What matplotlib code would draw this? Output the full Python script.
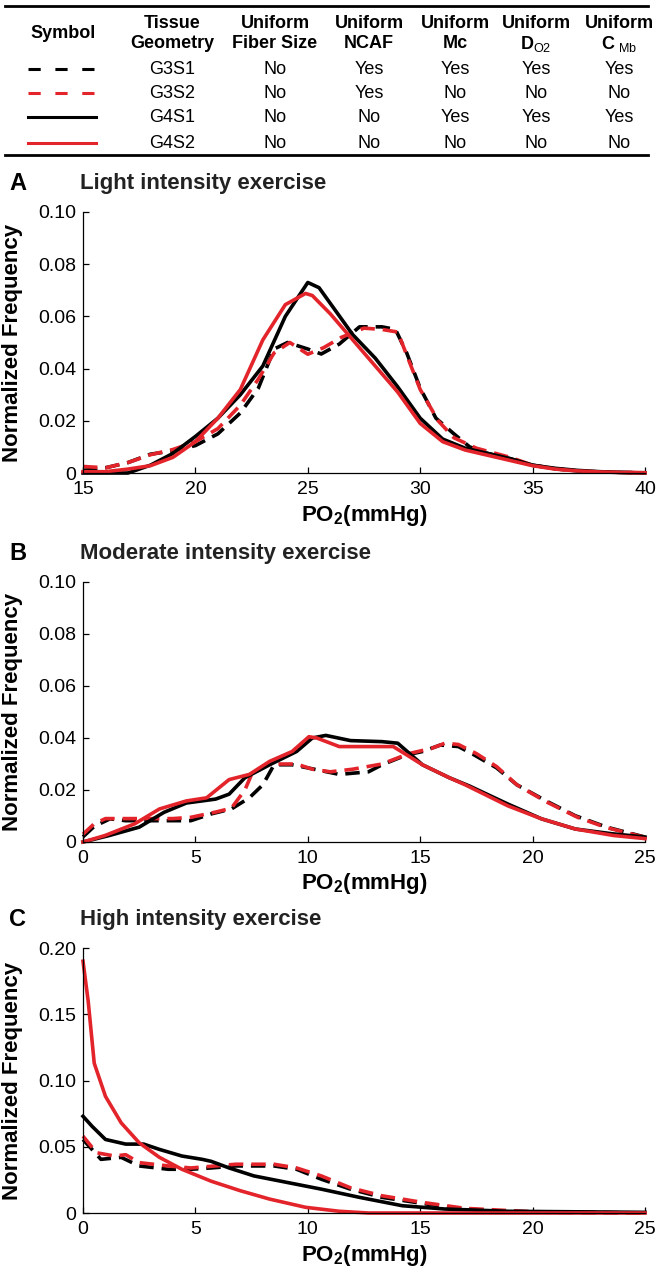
import numpy as np
import matplotlib
matplotlib.use("Agg")
import matplotlib.pyplot as plt
from matplotlib.lines import Line2D

plt.rcParams["font.family"] = ["Liberation Sans", "DejaVu Sans"]
plt.rcParams["mathtext.fontset"] = "custom"
plt.rcParams["mathtext.rm"] = "Liberation Sans"
plt.rcParams["mathtext.bf"] = "Liberation Sans:bold"

RED = "#e3242b"

# ---- table data ----
headers = ["Symbol", "Tissue\nGeometry", "Uniform\nFiber Size", "Uniform\nNCAF",
           "Uniform\nMc", "Uniform\n$\\mathbf{D}_{\\mathrm{O2}}$", "Uniform\n$\\mathbf{C}_{\\ \\mathrm{Mb}}$"]
geometry = ["G3S1", "G3S2", "G4S1", "G4S2"]
fiber_size = ["No", "No", "No", "No"]
ncaf = ["Yes", "Yes", "No", "No"]
mc = ["Yes", "No", "Yes", "No"]
do2 = ["Yes", "No", "Yes", "No"]
cmb = ["Yes", "No", "Yes", "No"]

# ---- panel A: light intensity ----
a_x_g3s1 = [15, 16, 17, 18, 19, 20, 21, 22, 22.8, 23.5, 24.1, 25, 25.6, 26.4, 27.3, 28.3, 28.9, 29.4, 30, 30.7, 31.5, 32.2, 33, 34, 35, 36, 37, 38, 39, 40]
a_y_g3s1 = [0.001, 0.002, 0.004, 0.0072, 0.0085, 0.0105, 0.015, 0.023, 0.0325, 0.0475, 0.050, 0.0475, 0.0456, 0.0494, 0.056, 0.056, 0.055, 0.046, 0.0325, 0.021, 0.015, 0.010, 0.0075, 0.0055, 0.003, 0.0016, 0.0008, 0.0004, 0.0002, 0.0001]
a_x_g3s2 = [15, 16, 17, 18, 19, 20, 21, 22, 22.8, 23.5, 24.2, 25, 25.7, 26.5, 27.5, 28.3, 29, 29.5, 30, 30.8, 31.5, 32.5, 34, 35, 36, 37, 38, 39, 40]
a_y_g3s2 = [0.0025, 0.002, 0.004, 0.007, 0.009, 0.012, 0.017, 0.026, 0.036, 0.046, 0.050, 0.0455, 0.048, 0.052, 0.0555, 0.055, 0.054, 0.043, 0.032, 0.020, 0.0135, 0.0095, 0.006, 0.003, 0.0016, 0.0008, 0.0004, 0.0002, 0.0001]
a_x_g4s1 = [15, 16, 17, 18, 19, 20, 21, 22, 23, 24, 25, 25.5, 26, 27, 28, 29, 30, 31, 32, 33, 34, 35, 36, 37, 38, 39, 40]
a_y_g4s1 = [0, 0, 0, 0.003, 0.0075, 0.014, 0.021, 0.030, 0.041, 0.060, 0.073, 0.071, 0.065, 0.053, 0.044, 0.033, 0.021, 0.013, 0.0095, 0.0075, 0.0055, 0.003, 0.0018, 0.001, 0.0005, 0.0002, 0]
a_x_g4s2 = [15, 16, 17, 18, 19, 20, 21, 22, 23, 24, 24.9, 25.2, 26, 27, 28, 29, 30, 31, 32, 33, 34, 35, 36, 37, 38, 39, 40]
a_y_g4s2 = [0.0005, 0.0005, 0.0015, 0.0028, 0.006, 0.012, 0.021, 0.032, 0.051, 0.0645, 0.0688, 0.068, 0.061, 0.051, 0.041, 0.031, 0.019, 0.012, 0.0088, 0.0068, 0.0048, 0.0028, 0.0015, 0.0008, 0.0004, 0.0002, 0.0001]

# ---- panel B: moderate intensity ----
b_x_g3s1 = [0, 0.5, 1.2, 1.9, 2.8, 3.8, 4.8, 5.7, 6.6, 7.4, 8.0, 8.5, 9.3, 10, 11.4, 12.7, 13.3, 14.4, 15.1, 15.9, 16.7, 17.4, 18.4, 19.3, 20.6, 21.9, 23.3, 25]
b_y_g3s1 = [0.002, 0.006, 0.0089, 0.0082, 0.0082, 0.0082, 0.0082, 0.0108, 0.0127, 0.017, 0.022, 0.0297, 0.0297, 0.0285, 0.026, 0.027, 0.0297, 0.0335, 0.0348, 0.0373, 0.0367, 0.0335, 0.0285, 0.022, 0.0158, 0.0101, 0.0057, 0.0019]
b_x_g3s2 = [0, 0.5, 1.0, 2.0, 3.0, 4.0, 4.8, 5.9, 6.6, 7.2, 7.5, 8.3, 9.5, 10.2, 11, 12, 13.3, 14.5, 15.5, 16.1, 16.7, 17.5, 18.4, 19.3, 20.6, 22, 23.3, 25]
b_y_g3s2 = [0.003, 0.007, 0.009, 0.009, 0.009, 0.009, 0.0095, 0.0115, 0.013, 0.020, 0.026, 0.030, 0.030, 0.028, 0.027, 0.028, 0.030, 0.034, 0.036, 0.038, 0.0375, 0.034, 0.029, 0.022, 0.0155, 0.0095, 0.0055, 0.0018]
b_x_g4s1 = [0, 1.17, 2.5, 3.6, 4.6, 5.9, 6.5, 7.2, 8.3, 9.5, 10.2, 10.8, 11.9, 13.3, 14.0, 15.1, 16.3, 17.2, 18.9, 20.4, 21.9, 23.5, 25]
b_y_g4s1 = [0, 0.0025, 0.0057, 0.0114, 0.015, 0.0165, 0.0184, 0.0247, 0.0297, 0.0348, 0.040, 0.041, 0.039, 0.0386, 0.038, 0.0297, 0.0247, 0.0215, 0.0146, 0.0089, 0.005, 0.0032, 0.0019]
b_x_g4s2 = [0, 0.98, 2.3, 3.4, 4.6, 5.5, 6.5, 7.4, 8.3, 9.3, 10.05, 10.4, 11.4, 12.3, 13.8, 14.4, 15.1, 16.3, 17.0, 18.9, 20.4, 21.9, 23.6, 25]
b_y_g4s2 = [0, 0.0025, 0.007, 0.0127, 0.0158, 0.017, 0.024, 0.026, 0.031, 0.0348, 0.0405, 0.040, 0.0367, 0.0367, 0.0367, 0.0335, 0.0297, 0.0247, 0.022, 0.0139, 0.0089, 0.005, 0.0025, 0.0013]

# ---- panel C: high intensity ----
c_x_g3s1 = [0, 0.8, 1.7, 2.5, 3.8, 4.8, 5.7, 6.8, 8.5, 9.5, 10.6, 11.9, 13.3, 14.8, 16.3, 18.0, 20.8, 25]
c_y_g3s1 = [0.0555, 0.0405, 0.042, 0.0355, 0.033, 0.033, 0.034, 0.0355, 0.0355, 0.033, 0.0255, 0.018, 0.0118, 0.008, 0.0043, 0.0018, 0.0005, 0]
c_x_g3s2 = [0, 0.6, 1.4, 1.9, 2.5, 3.8, 4.8, 6.8, 8.5, 9.5, 10.6, 11.9, 13.3, 15.1, 17.0, 19.9, 25]
c_y_g3s2 = [0.058, 0.0455, 0.043, 0.044, 0.038, 0.0355, 0.034, 0.0368, 0.0368, 0.034, 0.028, 0.019, 0.013, 0.008, 0.0035, 0.001, 0]
c_x_g4s1 = [0, 0.4, 1.0, 1.9, 2.7, 3.4, 4.4, 5.3, 5.7, 6.5, 7.6, 9.1, 10.6, 12.3, 14.2, 16.1, 18.9, 25]
c_y_g4s1 = [0.073, 0.0655, 0.0555, 0.052, 0.052, 0.048, 0.043, 0.0405, 0.039, 0.034, 0.028, 0.023, 0.018, 0.0118, 0.0055, 0.003, 0.0013, 0.0005]
c_x_g4s2 = [0, 0.23, 0.5, 1.0, 1.7, 2.5, 3.4, 4.4, 5.7, 7.0, 8.3, 9.9, 11.4, 12.7, 25]
c_y_g4s2 = [0.19, 0.16, 0.113, 0.088, 0.068, 0.053, 0.042, 0.033, 0.024, 0.0168, 0.0105, 0.0043, 0.0013, 0, 0]

panels = [
    ("A", "Light intensity exercise", (15, 40), [15, 20, 25, 30, 35, 40], [0, 0.02, 0.04, 0.06, 0.08, 0.10],
     ["0", "0.02", "0.04", "0.06", "0.08", "0.10"],
     [(a_x_g3s1, a_y_g3s1), (a_x_g3s2, a_y_g3s2), (a_x_g4s1, a_y_g4s1), (a_x_g4s2, a_y_g4s2)]),
    ("B", "Moderate intensity exercise", (0, 25), [0, 5, 10, 15, 20, 25], [0, 0.02, 0.04, 0.06, 0.08, 0.10],
     ["0", "0.02", "0.04", "0.06", "0.08", "0.10"],
     [(b_x_g3s1, b_y_g3s1), (b_x_g3s2, b_y_g3s2), (b_x_g4s1, b_y_g4s1), (b_x_g4s2, b_y_g4s2)]),
    ("C", "High intensity exercise", (0, 25), [0, 5, 10, 15, 20, 25], [0, 0.05, 0.10, 0.15, 0.20],
     ["0", "0.05", "0.10", "0.15", "0.20"],
     [(c_x_g3s1, c_y_g3s1), (c_x_g3s2, c_y_g3s2), (c_x_g4s1, c_y_g4s1), (c_x_g4s2, c_y_g4s2)]),
]

styles = [dict(color="black", ls=(0, (4, 2.2))),
          dict(color=RED, ls=(0, (4, 2.2))),
          dict(color="black", ls="-"),
          dict(color=RED, ls="-")]

W, H = 664, 1279
fig = plt.figure(figsize=(W / 100, H / 100), dpi=100)


def fx(px):
    return px / W


def fy(py):
    return 1 - py / H


# ---- table ----
fig.add_artist(Line2D([fx(5), fx(648)], [fy(6), fy(6)], color="black", lw=2))
fig.add_artist(Line2D([fx(5), fx(648)], [fy(155), fy(155)], color="black", lw=2))

col_x = [63, 172, 275, 369, 455, 536, 619]
for i, h in enumerate(headers):
    if i == 0:
        fig.text(fx(col_x[i]), fy(33), h, ha="center", va="center", fontsize=13, fontweight="bold")
        continue
    top, bottom = h.split("\n")
    fig.text(fx(col_x[i]), fy(23), top, ha="center", va="center", fontsize=13, fontweight="bold")
    fig.text(fx(col_x[i]), fy(44), bottom, ha="center", va="center", fontsize=13, fontweight="bold")

row_y = [69, 93, 117, 143]
cols = [geometry, fiber_size, ncaf, mc, do2, cmb]
for r in range(4):
    st = styles[r]
    if r < 2:
        fig.add_artist(Line2D([fx(28), fx(96)], [fy(row_y[r]), fy(row_y[r])], color=st["color"],
                              lw=2.2, ls=(0, (4.0, 4.8))))
    else:
        fig.add_artist(Line2D([fx(28), fx(96)], [fy(row_y[r]), fy(row_y[r])], color=st["color"], lw=2.2))
    for c, vals in enumerate(cols):
        fig.text(fx(col_x[c + 1]), fy(row_y[r]), vals[r], ha="center", va="center", fontsize=13)

# ---- panels ----
ax_top = [212, 582, 948]
ax_bot = [473, 842, 1213]
left, right = 83, 645

for k, (letter, title, xlim, xt, yt, ytl, series) in enumerate(panels):
    ax = fig.add_axes([fx(left), fy(ax_bot[k]), (right - left) / W, (ax_bot[k] - ax_top[k]) / H])
    for (xs, ys), st in zip(series, styles):
        ax.plot(xs, ys, color=st["color"], ls=st["ls"], lw=2.6, clip_on=False, solid_joinstyle="round")
    ax.set_xlim(*xlim)
    ax.set_ylim(yt[0], yt[-1])
    ax.set_xticks(xt)
    ax.set_yticks(yt)
    ax.set_yticklabels(ytl)
    for s in ["top", "right"]:
        ax.spines[s].set_visible(False)
    for s in ["left", "bottom"]:
        ax.spines[s].set_linewidth(0.9)
    ax.tick_params(direction="in", length=4, width=0.9, labelsize=14)
    ax.tick_params(axis="x", pad=6)
    ax.tick_params(axis="y", pad=5)
    ax.set_xlabel(r"PO$_\mathbf{2}$(mmHg)", fontsize=16, fontweight="bold", labelpad=3)
    ax.set_ylabel("Normalized Frequency", fontsize=16, fontweight="bold")
    ax.yaxis.set_label_coords(-0.107, 0.5)
    fig.text(fx(9), fy(ax_top[k] - 29), letter, ha="left", va="center", fontsize=17, fontweight="bold")
    fig.text(fx(80), fy(ax_top[k] - 29), title, ha="left", va="center", fontsize=16, fontweight="bold",
             color="#222222")

fig.savefig("out.png", dpi=100)
